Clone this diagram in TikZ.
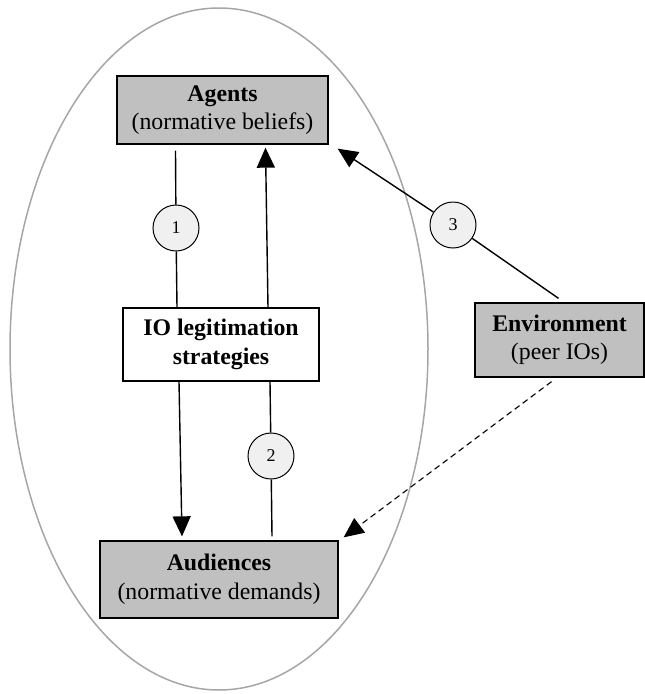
\documentclass[tikz,border=0pt]{standalone}
\usepackage{fontspec}
\setmainfont{Liberation Serif}
\usetikzlibrary{arrows.meta}
\definecolor{boxgray}{HTML}{C0C0C0}
\definecolor{circfill}{HTML}{F0F0F0}
\definecolor{ellgray}{HTML}{A6A6A6}
\tikzset{
  graybox/.style={draw, line width=1.3pt, fill=boxgray, inner sep=0pt, align=center,
    font=\fontsize{23.8}{28.5}\selectfont},
  whitebox/.style={draw, line width=1.3pt, fill=white, inner sep=0pt, align=center,
    font=\fontsize{23.8}{28.5}\selectfont\bfseries},
  numcirc/.style={draw, line width=1pt, circle, fill=circfill, minimum size=46pt, inner sep=0pt,
    font=\fontsize{18}{20}\selectfont},
  conn/.style={line width=1.4pt},
  tip/.style={-{Triangle[length=20pt,width=18pt]}},
  arr/.style={line width=1.4pt, tip},
}
\begin{document}
\begin{tikzpicture}[x=1pt,y=-1pt]
\useasboundingbox (0,0) rectangle (645,694);
\draw[ellgray, line width=1.5pt] (219,349) ellipse [x radius=209, y radius=341];

\node[graybox, minimum width=211pt, minimum height=68pt] (ag) at (222.5,110)
  {\textbf{Agents}\\(normative beliefs)};
\node[whitebox, minimum width=196pt, minimum height=73pt] (io) at (221,344.5)
  {IO legitimation\\strategies};
\node[graybox, minimum width=238pt, minimum height=77pt] (au) at (219,579.5)
  {\textbf{Audiences}\\(normative demands)};
\node[graybox, minimum width=169pt, minimum height=74pt] (env) at (559.5,340)
  {\textbf{Environment}\\(peer IOs)};

\node[numcirc] (c1) at (176,228) {1};
\node[numcirc] (c2) at (271,456) {2};
\node[numcirc] (c3) at (453,225) {3};

% path 1
\draw[conn] ([shift={(-47pt,-6pt)}]ag.south) -- (c1);
\draw[conn] (c1) -- ([xshift=-44pt]io.north);
% arrow up
\draw[arr] ([xshift=47pt]io.north) -- ([shift={(43pt,-3pt)}]ag.south);
% arrow down
\draw[arr] ([xshift=-42pt]io.south) -- ([shift={(-37pt,4pt)}]au.north);
% path 2
\draw[conn] ([xshift=49pt]io.south) -- (c2);
\draw[conn] (c2) -- ([shift={(53pt,4pt)}]au.north);
% path 3
\draw[conn] ([shift={(-1pt,4pt)}]env.north) -- (c3);
\draw[arr] (c3) -- ([shift={(9pt,-4pt)}]ag.south east);
% dashed
\draw[line width=1.1pt, dash pattern=on 6pt off 4pt, tip]
  ([shift={(-8pt,-4pt)}]env.south) -- ([shift={(5pt,3pt)}]au.north east);
\end{tikzpicture}
\end{document}
